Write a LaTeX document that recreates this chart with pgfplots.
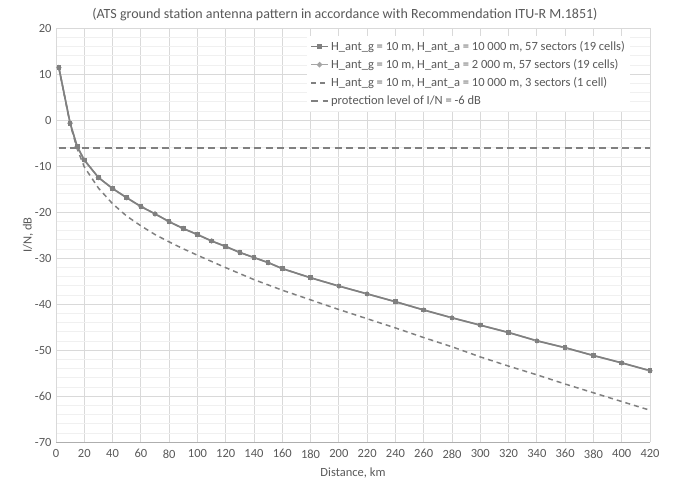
\documentclass[border=0pt]{standalone}
\usepackage{fontspec}
\setmainfont{Carlito}
\usepackage{pgfplots}
\pgfplotsset{compat=1.18}

\definecolor{gridc}{HTML}{D9D9D9}
\definecolor{gridm}{HTML}{F0F0F0}
\definecolor{txtc}{HTML}{595959}
\definecolor{sdark}{HTML}{808080}
\definecolor{slight}{HTML}{A5A5A5}

% distance (km) vs I/N (dB)
\pgfplotstableread{
d    v
2    11.4
10   -0.7
15   -5.8
20   -8.7
30   -12.5
40   -14.9
50   -16.9
60   -18.8
70   -20.4
80   -22.1
90   -23.6
100  -24.9
110  -26.3
120  -27.5
130  -28.8
140  -29.9
150  -31.0
160  -32.3
180  -34.3
200  -36.1
220  -37.8
240  -39.5
260  -41.3
280  -43.0
300  -44.6
320  -46.2
340  -48.0
360  -49.5
380  -51.2
400  -52.8
420  -54.5
}\sevenk

\pgfplotstableread{
d    v
2    11.4
10   -0.7
15   -5.8
20   -8.7
30   -12.5
40   -14.9
50   -16.9
60   -18.8
70   -20.4
80   -22.1
90   -23.6
100  -24.9
110  -26.3
120  -27.5
130  -28.8
140  -29.9
150  -31.0
160  -32.3
180  -34.3
200  -36.1
220  -37.8
240  -39.5
260  -41.3
280  -43.0
300  -44.6
320  -46.2
340  -48.0
360  -49.5
380  -51.2
400  -52.8
420  -54.5
}\twok

\pgfplotstableread{
d    v
2    11.4
10   -0.9
15   -6.3
20   -10.2
30   -14.8
40   -18.2
50   -20.9
60   -23.0
70   -24.9
80   -26.5
90   -28.0
100  -29.4
120  -32.1
140  -34.7
160  -37.0
180  -39.1
200  -41.2
220  -43.2
240  -45.2
260  -47.3
280  -49.3
300  -51.5
320  -53.5
340  -55.4
360  -57.4
380  -59.3
400  -61.2
420  -63.1
}\threesec

\begin{document}
\begin{tikzpicture}
\useasboundingbox (-56bp,-42bp) rectangle (620bp,442bp);
\begin{axis}[
  scale only axis, width=594bp, height=414bp,
  font=\fontsize{12.5bp}{15bp}\selectfont,
  /pgf/number format/assume math mode=true,
  xmin=0, xmax=420, ymin=-70, ymax=20,
  xtick={0,20,...,420}, ytick={-70,-60,...,20},
  minor y tick num=4,
  grid=both,
  major grid style={draw=gridc, line width=0.8bp},
  minor grid style={draw=gridm, line width=0.5bp},
  axis x line*=bottom, axis y line*=left,
  x axis line style={draw=gridc!80!black, line width=0.8bp, -},
  y axis line style={draw=gridc, line width=0.8bp, -},
  tick style={draw=none},
  ticklabel style={text=txtc},
  yticklabel style={xshift=-1bp},
  xticklabel style={yshift=-4bp},
  xlabel={Distance, km}, ylabel={I/N, dB},
  xlabel shift=3bp, ylabel shift=-5bp,
  label style={text=txtc},
  title={(ATS ground station antenna pattern in accordance with Recommendation ITU-R M.1851)},
  title style={at={(axis description cs:0.5,1)}, anchor=center, yshift=7bp, xshift=-8bp, text=txtc, font=\fontsize{14bp}{16bp}\selectfont},
  legend style={at={(axis description cs:1,1)}, anchor=north east, yshift=-8bp, xshift=-20bp,
    draw=none, fill=white, text=txtc, font=\fontsize{12.5bp}{15bp}\selectfont,
    row sep=3.5bp, inner sep=3bp},
  legend cell align=left,
]
\addplot[slight, line width=1.6bp, mark=*, mark size=1.8bp, mark options={fill=slight, draw=slight}, forget plot] table[x=d, y=v] {\twok};
\addplot[sdark, line width=1.6bp, mark=square*, mark size=1.5bp, mark options={fill=sdark, draw=sdark}] table[x=d, y=v] {\sevenk};
\addlegendentry{H\_ant\_g = 10 m, H\_ant\_a = 10 000 m, 57 sectors (19 cells)}
\addlegendimage{slight, line width=1.6bp, mark=*, mark size=1.8bp, mark options={fill=slight, draw=slight}}
\addlegendentry{H\_ant\_g = 10 m, H\_ant\_a = 2 000 m, 57 sectors (19 cells)}
\addplot[sdark, line width=1.5bp, dash pattern=on 5bp off 4bp] table[x=d, y=v] {\threesec};
\addlegendentry{H\_ant\_g = 10 m, H\_ant\_a = 10 000 m, 3 sectors (1 cell)}
\addplot[sdark, line width=2.2bp, dash pattern=on 7bp off 4.5bp] coordinates {(2,-6) (420,-6)};
\addlegendentry{protection level of I/N = -6 dB}
\end{axis}
\end{tikzpicture}
\end{document}
